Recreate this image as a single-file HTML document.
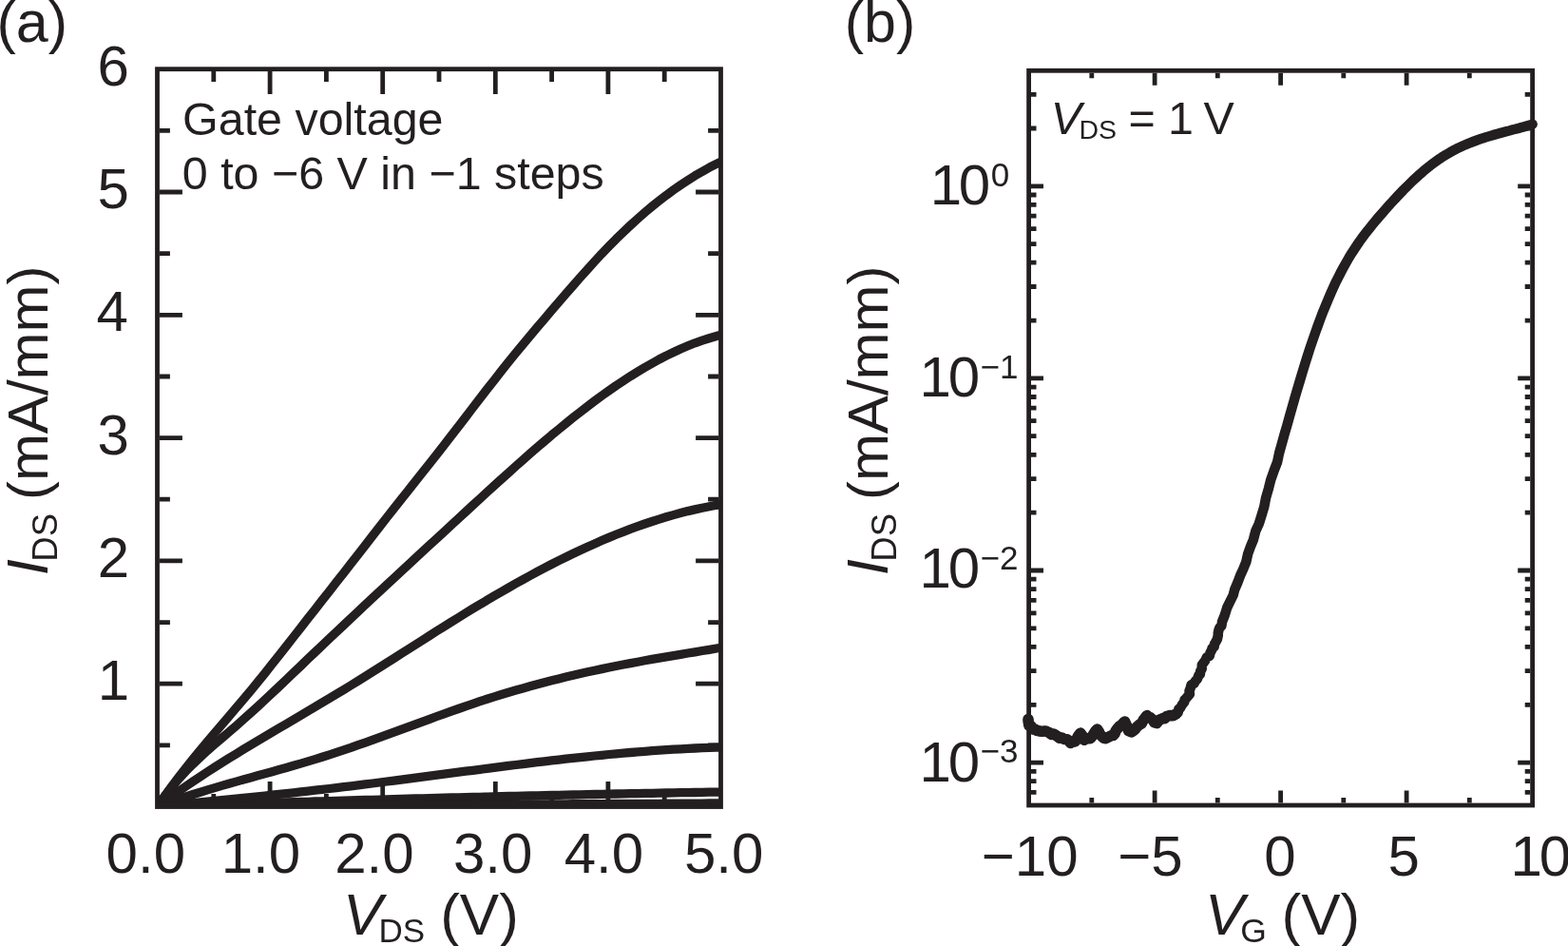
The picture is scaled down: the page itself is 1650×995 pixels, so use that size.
<!DOCTYPE html>
<html><head><meta charset="utf-8"><title>Transistor characteristics</title>
<style>
html,body{margin:0;padding:0;background:#fff;overflow:hidden;}
svg{display:block;}
text{font-family:"Liberation Sans",Arial,Helvetica,sans-serif;fill:#231f20;}
</style></head>
<body>
<svg width="1650" height="995" viewBox="0 0 1650 995">
<rect width="1650" height="995" fill="#fff"/>
<rect x="165.5" y="72.7" width="593.0" height="775.8" fill="none" stroke="#231f20" stroke-width="4.8"/>
<path d="M224.8,846.1V835.1M224.8,75.1V86.1M284.1,846.1V822.1M284.1,75.1V99.1M343.4,846.1V835.1M343.4,75.1V86.1M402.7,846.1V822.1M402.7,75.1V99.1M462.0,846.1V835.1M462.0,75.1V86.1M521.3,846.1V822.1M521.3,75.1V99.1M580.6,846.1V835.1M580.6,75.1V86.1M639.9,846.1V822.1M639.9,75.1V99.1M699.2,846.1V835.1M699.2,75.1V86.1M167.9,783.9H178.9M756.1,783.9H745.1M167.9,719.2H191.9M756.1,719.2H732.1M167.9,654.6H178.9M756.1,654.6H745.1M167.9,589.9H191.9M756.1,589.9H732.1M167.9,525.2H178.9M756.1,525.2H745.1M167.9,460.6H191.9M756.1,460.6H732.1M167.9,396.0H178.9M756.1,396.0H745.1M167.9,331.3H191.9M756.1,331.3H732.1M167.9,266.6H178.9M756.1,266.6H745.1M167.9,202.0H191.9M756.1,202.0H732.1M167.9,137.4H178.9M756.1,137.4H745.1" fill="none" stroke="#231f20" stroke-width="4.8"/>
<clipPath id="ca"><rect x="165.5" y="72.7" width="593.0" height="775.8"/></clipPath>
<g clip-path="url(#ca)"><polyline points="165.5,848.5 173.0,837.7 180.6,827.3 188.1,817.3 195.7,807.6 203.2,798.2 210.8,789.0 218.3,780.0 225.9,771.1 233.4,762.3 240.9,753.5 248.5,744.6 256.0,735.7 263.6,726.7 271.1,717.5 278.7,708.2 286.2,698.7 293.8,689.2 301.3,679.6 308.8,670.0 316.4,660.3 323.9,650.7 331.5,641.1 339.0,631.4 346.6,621.8 354.1,612.2 361.7,602.6 369.2,592.9 376.7,583.3 384.3,573.6 391.8,563.8 399.4,554.1 406.9,544.5 414.5,534.8 422.0,525.3 429.6,515.8 437.1,506.3 444.6,496.9 452.2,487.4 459.7,477.8 467.3,468.1 474.8,458.4 482.4,448.6 489.9,438.8 497.4,429.0 505.0,419.2 512.5,409.4 520.1,399.8 527.6,390.2 535.2,380.7 542.7,371.4 550.3,362.2 557.8,353.2 565.3,344.3 572.9,335.4 580.4,326.6 588.0,317.8 595.5,309.0 603.1,300.4 610.6,291.8 618.2,283.3 625.7,275.0 633.2,266.9 640.8,259.1 648.3,251.4 655.9,244.1 663.4,237.0 671.0,230.1 678.5,223.5 686.1,217.2 693.6,211.2 701.1,205.4 708.7,199.8 716.2,194.6 723.8,189.6 731.3,184.8 738.9,180.4 746.4,176.2 754.0,172.3 761.5,168.6" fill="none" stroke="#231f20" stroke-width="9.3" stroke-linejoin="round"/><polyline points="165.5,848.5 173.0,837.9 180.6,828.2 188.1,819.3 195.7,811.1 203.2,803.5 210.8,796.3 218.3,789.4 225.9,782.8 233.4,776.4 240.9,770.0 248.5,763.4 256.0,756.8 263.6,750.0 271.1,743.2 278.7,736.2 286.2,729.1 293.8,722.0 301.3,714.9 308.8,707.7 316.4,700.5 323.9,693.2 331.5,686.0 339.0,678.9 346.6,671.7 354.1,664.6 361.7,657.5 369.2,650.4 376.7,643.3 384.3,636.2 391.8,629.2 399.4,622.1 406.9,615.1 414.5,608.1 422.0,601.1 429.6,594.1 437.1,587.1 444.6,580.2 452.2,573.2 459.7,566.3 467.3,559.3 474.8,552.4 482.4,545.4 489.9,538.5 497.4,531.5 505.0,524.6 512.5,517.7 520.1,510.8 527.6,504.0 535.2,497.2 542.7,490.4 550.3,483.7 557.8,477.1 565.3,470.6 572.9,464.1 580.4,457.7 588.0,451.5 595.5,445.3 603.1,439.2 610.6,433.3 618.2,427.5 625.7,421.8 633.2,416.2 640.8,410.9 648.3,405.6 655.9,400.6 663.4,395.7 671.0,391.0 678.5,386.5 686.1,382.2 693.6,378.0 701.1,374.1 708.7,370.5 716.2,367.0 723.8,363.8 731.3,360.8 738.9,358.1 746.4,355.7 754.0,353.5 761.5,351.5" fill="none" stroke="#231f20" stroke-width="9.3" stroke-linejoin="round"/><polyline points="165.5,848.5 173.0,842.9 180.6,837.5 188.1,832.2 195.7,827.0 203.2,821.9 210.8,816.8 218.3,811.9 225.9,807.0 233.4,802.3 240.9,797.5 248.5,792.9 256.0,788.3 263.6,783.7 271.1,779.2 278.7,774.7 286.2,770.2 293.8,765.8 301.3,761.4 308.8,756.9 316.4,752.5 323.9,748.1 331.5,743.6 339.0,739.1 346.6,734.6 354.1,730.1 361.7,725.5 369.2,720.9 376.7,716.2 384.3,711.5 391.8,706.8 399.4,702.0 406.9,697.3 414.5,692.5 422.0,687.7 429.6,682.9 437.1,678.1 444.6,673.3 452.2,668.5 459.7,663.7 467.3,659.0 474.8,654.3 482.4,649.6 489.9,644.9 497.4,640.3 505.0,635.8 512.5,631.3 520.1,626.8 527.6,622.4 535.2,618.1 542.7,613.8 550.3,609.6 557.8,605.5 565.3,601.4 572.9,597.4 580.4,593.5 588.0,589.7 595.5,586.0 603.1,582.3 610.6,578.7 618.2,575.2 625.7,571.9 633.2,568.6 640.8,565.4 648.3,562.3 655.9,559.3 663.4,556.4 671.0,553.7 678.5,551.0 686.1,548.5 693.6,546.1 701.1,543.8 708.7,541.6 716.2,539.6 723.8,537.6 731.3,535.9 738.9,534.2 746.4,532.7 754.0,531.3 761.5,530.1" fill="none" stroke="#231f20" stroke-width="9.3" stroke-linejoin="round"/><polyline points="165.5,848.5 173.0,845.7 180.6,843.0 188.1,840.5 195.7,838.0 203.2,835.5 210.8,833.2 218.3,830.9 225.9,828.6 233.4,826.4 240.9,824.3 248.5,822.1 256.0,820.0 263.6,817.9 271.1,815.8 278.7,813.8 286.2,811.7 293.8,809.6 301.3,807.5 308.8,805.3 316.4,803.1 323.9,800.9 331.5,798.6 339.0,796.3 346.6,793.9 354.1,791.4 361.7,788.9 369.2,786.4 376.7,783.7 384.3,781.1 391.8,778.4 399.4,775.7 406.9,772.9 414.5,770.2 422.0,767.4 429.6,764.6 437.1,761.8 444.6,759.1 452.2,756.3 459.7,753.5 467.3,750.8 474.8,748.1 482.4,745.5 489.9,742.8 497.4,740.3 505.0,737.7 512.5,735.3 520.1,732.9 527.6,730.5 535.2,728.2 542.7,726.0 550.3,723.9 557.8,721.8 565.3,719.7 572.9,717.7 580.4,715.8 588.0,713.9 595.5,712.1 603.1,710.3 610.6,708.5 618.2,706.8 625.7,705.2 633.2,703.6 640.8,702.0 648.3,700.5 655.9,699.0 663.4,697.6 671.0,696.2 678.5,694.8 686.1,693.4 693.6,692.1 701.1,690.8 708.7,689.6 716.2,688.3 723.8,687.0 731.3,685.8 738.9,684.5 746.4,683.3 754.0,682.0 761.5,680.7" fill="none" stroke="#231f20" stroke-width="9.3" stroke-linejoin="round"/><polyline points="165.5,848.5 173.0,847.7 180.6,847.0 188.1,846.2 195.7,845.4 203.2,844.7 210.8,843.9 218.3,843.2 225.9,842.4 233.4,841.6 240.9,840.9 248.5,840.1 256.0,839.3 263.6,838.6 271.1,837.8 278.7,837.0 286.2,836.2 293.8,835.4 301.3,834.6 308.8,833.8 316.4,832.9 323.9,832.1 331.5,831.2 339.0,830.4 346.6,829.5 354.1,828.6 361.7,827.7 369.2,826.8 376.7,825.8 384.3,824.9 391.8,824.0 399.4,823.0 406.9,822.0 414.5,821.1 422.0,820.1 429.6,819.1 437.1,818.1 444.6,817.2 452.2,816.2 459.7,815.2 467.3,814.2 474.8,813.2 482.4,812.2 489.9,811.2 497.4,810.3 505.0,809.3 512.5,808.3 520.1,807.3 527.6,806.4 535.2,805.4 542.7,804.5 550.3,803.6 557.8,802.6 565.3,801.7 572.9,800.8 580.4,799.9 588.0,799.1 595.5,798.2 603.1,797.4 610.6,796.6 618.2,795.8 625.7,795.0 633.2,794.3 640.8,793.5 648.3,792.8 655.9,792.2 663.4,791.5 671.0,790.9 678.5,790.3 686.1,789.7 693.6,789.2 701.1,788.7 708.7,788.2 716.2,787.8 723.8,787.4 731.3,787.0 738.9,786.7 746.4,786.4 754.0,786.2 761.5,786.0" fill="none" stroke="#231f20" stroke-width="9.3" stroke-linejoin="round"/><polyline points="165.5,848.5 173.0,848.2 180.6,848.0 188.1,847.7 195.7,847.4 203.2,847.2 210.8,846.9 218.3,846.7 225.9,846.4 233.4,846.2 240.9,845.9 248.5,845.7 256.0,845.4 263.6,845.2 271.1,844.9 278.7,844.7 286.2,844.4 293.8,844.2 301.3,844.0 308.8,843.7 316.4,843.5 323.9,843.3 331.5,843.0 339.0,842.8 346.6,842.6 354.1,842.4 361.7,842.1 369.2,841.9 376.7,841.7 384.3,841.5 391.8,841.3 399.4,841.1 406.9,840.9 414.5,840.6 422.0,840.4 429.6,840.2 437.1,840.0 444.6,839.8 452.2,839.6 459.7,839.4 467.3,839.2 474.8,839.0 482.4,838.8 489.9,838.6 497.4,838.5 505.0,838.3 512.5,838.1 520.1,837.9 527.6,837.7 535.2,837.5 542.7,837.4 550.3,837.2 557.8,837.0 565.3,836.8 572.9,836.7 580.4,836.5 588.0,836.3 595.5,836.2 603.1,836.0 610.6,835.8 618.2,835.7 625.7,835.5 633.2,835.4 640.8,835.2 648.3,835.0 655.9,834.9 663.4,834.7 671.0,834.6 678.5,834.4 686.1,834.3 693.6,834.2 701.1,834.0 708.7,833.9 716.2,833.7 723.8,833.6 731.3,833.5 738.9,833.3 746.4,833.2 754.0,833.1 761.5,833.0" fill="none" stroke="#231f20" stroke-width="9.3" stroke-linejoin="round"/><polyline points="165.5,848.5 173.0,848.4 180.6,848.4 188.1,848.3 195.7,848.3 203.2,848.2 210.8,848.2 218.3,848.1 225.9,848.0 233.4,848.0 240.9,847.9 248.5,847.9 256.0,847.8 263.6,847.8 271.1,847.7 278.7,847.7 286.2,847.6 293.8,847.6 301.3,847.5 308.8,847.5 316.4,847.4 323.9,847.4 331.5,847.3 339.0,847.3 346.6,847.2 354.1,847.2 361.7,847.1 369.2,847.1 376.7,847.0 384.3,847.0 391.8,846.9 399.4,846.9 406.9,846.8 414.5,846.8 422.0,846.7 429.6,846.7 437.1,846.6 444.6,846.6 452.2,846.5 459.7,846.5 467.3,846.5 474.8,846.4 482.4,846.4 489.9,846.3 497.4,846.3 505.0,846.2 512.5,846.2 520.1,846.2 527.6,846.1 535.2,846.1 542.7,846.0 550.3,846.0 557.8,845.9 565.3,845.9 572.9,845.9 580.4,845.8 588.0,845.8 595.5,845.8 603.1,845.7 610.6,845.7 618.2,845.6 625.7,845.6 633.2,845.6 640.8,845.5 648.3,845.5 655.9,845.5 663.4,845.4 671.0,845.4 678.5,845.3 686.1,845.3 693.6,845.3 701.1,845.2 708.7,845.2 716.2,845.2 723.8,845.1 731.3,845.1 738.9,845.1 746.4,845.0 754.0,845.0 761.5,845.0" fill="none" stroke="#231f20" stroke-width="9.3" stroke-linejoin="round"/></g>
<rect x="1082.6" y="74.3" width="530.0" height="772.7" fill="none" stroke="#231f20" stroke-width="4.8"/>
<path d="M1148.8,844.6V839.1M1148.8,76.7V82.2M1215.1,844.6V831.6M1215.1,76.7V89.7M1281.3,844.6V839.1M1281.3,76.7V82.2M1347.6,844.6V831.6M1347.6,76.7V89.7M1413.8,844.6V839.1M1413.8,76.7V82.2M1480.1,844.6V831.6M1480.1,76.7V89.7M1546.3,844.6V839.1M1546.3,76.7V82.2M1085.0,833.4H1090.5M1610.2,833.4H1604.7M1085.0,821.7H1090.5M1610.2,821.7H1604.7M1085.0,811.3H1090.5M1610.2,811.3H1604.7M1085.0,802.1H1098.0M1610.2,802.1H1597.2M1085.0,741.3H1090.5M1610.2,741.3H1604.7M1085.0,705.7H1090.5M1610.2,705.7H1604.7M1085.0,680.4H1090.5M1610.2,680.4H1604.7M1085.0,660.8H1090.5M1610.2,660.8H1604.7M1085.0,644.8H1090.5M1610.2,644.8H1604.7M1085.0,631.3H1090.5M1610.2,631.3H1604.7M1085.0,619.6H1090.5M1610.2,619.6H1604.7M1085.0,609.2H1090.5M1610.2,609.2H1604.7M1085.0,600.0H1098.0M1610.2,600.0H1597.2M1085.0,539.2H1090.5M1610.2,539.2H1604.7M1085.0,503.6H1090.5M1610.2,503.6H1604.7M1085.0,478.3H1090.5M1610.2,478.3H1604.7M1085.0,458.7H1090.5M1610.2,458.7H1604.7M1085.0,442.7H1090.5M1610.2,442.7H1604.7M1085.0,429.2H1090.5M1610.2,429.2H1604.7M1085.0,417.5H1090.5M1610.2,417.5H1604.7M1085.0,407.1H1090.5M1610.2,407.1H1604.7M1085.0,397.9H1098.0M1610.2,397.9H1597.2M1085.0,337.1H1090.5M1610.2,337.1H1604.7M1085.0,301.5H1090.5M1610.2,301.5H1604.7M1085.0,276.2H1090.5M1610.2,276.2H1604.7M1085.0,256.6H1090.5M1610.2,256.6H1604.7M1085.0,240.6H1090.5M1610.2,240.6H1604.7M1085.0,227.1H1090.5M1610.2,227.1H1604.7M1085.0,215.4H1090.5M1610.2,215.4H1604.7M1085.0,205.0H1090.5M1610.2,205.0H1604.7M1085.0,195.8H1098.0M1610.2,195.8H1597.2M1085.0,135.0H1090.5M1610.2,135.0H1604.7M1085.0,99.4H1090.5M1610.2,99.4H1604.7" fill="none" stroke="#231f20" stroke-width="4.8"/>
<polyline points="1082.0,756.5 1082.1,758.8 1082.8,763.0 1085.2,763.9 1087.0,767.0 1089.5,767.3 1091.1,768.4 1094.3,769.0 1096.7,769.3 1100.0,768.9 1104.0,770.5 1106.5,772.5 1108.7,772.1 1112.0,774.0 1114.9,776.3 1117.5,776.1 1120.0,777.5 1123.0,777.7 1125.0,779.6 1126.5,781.5 1128.3,779.7 1131.3,779.9 1132.8,777.8 1134.5,774.2 1136.9,771.1 1138.5,773.2 1139.7,774.8 1141.0,778.3 1143.4,776.7 1147.4,776.7 1149.5,774.1 1150.7,772.1 1152.7,769.0 1154.6,767.1 1156.5,769.8 1156.8,771.6 1158.6,773.5 1161.1,776.1 1163.5,776.7 1166.6,775.1 1169.7,773.6 1171.5,773.5 1173.0,771.8 1174.1,768.7 1175.5,766.7 1177.9,763.9 1180.3,762.5 1182.4,760.1 1183.6,759.0 1185.3,762.5 1186.4,765.4 1187.6,768.7 1190.6,769.9 1192.4,768.7 1194.5,767.0 1195.9,764.9 1198.9,762.2 1201.2,761.1 1203.5,756.8 1204.7,755.4 1206.9,752.6 1208.2,754.1 1210.6,754.8 1213.3,757.4 1214.6,759.7 1217.4,760.6 1219.5,757.5 1223.0,755.8 1225.5,755.7 1227.6,753.5 1231.0,752.6 1234.3,752.8 1237.5,751.0" fill="none" stroke="#231f20" stroke-width="11.5" stroke-linejoin="round" stroke-linecap="round"/>
<polyline points="1082.0,756.5 1082.1,758.8 1082.8,763.0 1085.2,763.9 1087.0,767.0 1089.5,767.3 1091.1,768.4 1094.3,769.0 1096.7,769.3 1100.0,768.9 1104.0,770.5 1106.5,772.5 1108.7,772.1 1112.0,774.0 1114.9,776.3 1117.5,776.1 1120.0,777.5 1123.0,777.7 1125.0,779.6 1126.5,781.5 1128.3,779.7 1131.3,779.9 1132.8,777.8 1134.5,774.2 1136.9,771.1 1138.5,773.2 1139.7,774.8 1141.0,778.3 1143.4,776.7 1147.4,776.7 1149.5,774.1 1150.7,772.1 1152.7,769.0 1154.6,767.1 1156.5,769.8 1156.8,771.6 1158.6,773.5 1161.1,776.1 1163.5,776.7 1166.6,775.1 1169.7,773.6 1171.5,773.5 1173.0,771.8 1174.1,768.7 1175.5,766.7 1177.9,763.9 1180.3,762.5 1182.4,760.1 1183.6,759.0 1185.3,762.5 1186.4,765.4 1187.6,768.7 1190.6,769.9 1192.4,768.7 1194.5,767.0 1195.9,764.9 1198.9,762.2 1201.2,761.1 1203.5,756.8 1204.7,755.4 1206.9,752.6 1208.2,754.1 1210.6,754.8 1213.3,757.4 1214.6,759.7 1217.4,760.6 1219.5,757.5 1223.0,755.8 1225.5,755.7 1227.6,753.5 1231.0,752.6 1234.3,752.8 1237.5,751.0 1239.7,749.5 1240.3,745.9 1242.0,744.7 1243.9,741.3 1246.3,738.2 1246.5,736.1 1248.2,734.5 1250.5,731.7 1251.9,730.1 1251.5,726.7 1252.7,723.8 1253.5,720.4 1256.5,718.8 1257.9,716.4 1260.0,714.0 1261.4,710.2 1262.9,709.4 1263.2,706.0 1264.7,703.5 1264.8,699.5 1266.6,696.8 1268.1,695.0 1270.0,691.2 1272.8,689.9 1273.5,686.6 1275.0,683.9 1275.6,681.7 1277.7,680.2 1278.0,677.2 1279.0,675.8 1280.9,672.2 1281.8,668.3 1281.8,665.8 1282.6,662.2 1283.5,660.1 1285.4,658.4 1286,654.038462405969 1288.9,646.7 1291.1,639.4 1294.2,633.0 1297.7,626.0 1299.1,620.4 1302.6,612.1 1305.4,604.7 1308.1,598.9 1311.3,591.0 1313.1,582.8 1315.7,575.5 1319.0,567.4 1321.4,558.2 1324.8,550.9 1327.6,541.9 1330.3,532.9 1332.1,523.6 1335.0,513.6 1337.2,504.7 1340.3,495.9 1344.1,486.0 1346.1,476.5 1348.8,466.9 1351.5,457.2 1354.3,447.6 1357.0,437.9 1359.7,428.4 1362.4,418.9 1365.1,409.6 1367.9,400.4 1370.6,391.3 1373.3,382.5 1376.0,373.9 1378.7,365.5 1381.5,357.4 1384.2,349.6 1386.9,342.1 1389.6,334.8 1392.3,327.7 1395.1,320.9 1397.8,314.4 1400.5,308.1 1403.2,302.1 1405.9,296.3 1408.7,290.8 1411.4,285.5 1414.1,280.5 1416.8,275.7 1419.5,271.0 1422.2,266.6 1425.0,262.3 1427.7,258.3 1430.4,254.3 1433.1,250.5 1435.8,246.9 1438.6,243.3 1441.3,239.9 1444.0,236.5 1446.7,233.2 1449.4,230.0 1452.2,226.8 1454.9,223.7 1457.6,220.6 1460.3,217.6 1463.0,214.5 1465.8,211.5 1468.5,208.6 1471.2,205.7 1473.9,202.8 1476.6,200.0 1479.4,197.3 1482.1,194.6 1484.8,191.9 1487.5,189.3 1490.2,186.8 1492.9,184.3 1495.7,181.9 1498.4,179.6 1501.1,177.3 1503.8,175.2 1506.5,173.0 1509.3,171.0 1512.0,169.0 1514.7,167.1 1517.4,165.3 1520.1,163.6 1522.9,162.0 1525.6,160.4 1528.3,158.9 1531.0,157.4 1533.7,156.1 1536.5,154.8 1539.2,153.5 1541.9,152.3 1544.6,151.2 1547.3,150.1 1550.1,149.0 1552.8,148.0 1555.5,147.0 1558.2,146.1 1560.9,145.2 1563.7,144.3 1566.4,143.5 1569.1,142.7 1571.8,141.9 1574.5,141.1 1577.2,140.4 1580.0,139.6 1582.7,138.9 1585.4,138.2 1588.1,137.5 1590.8,136.7 1593.6,136.0 1596.3,135.3 1599.0,134.6 1601.7,133.8 1604.4,133.1 1607.2,132.3 1609.9,131.5 1612.6,130.7" fill="none" stroke="#231f20" stroke-width="10.5" stroke-linejoin="round" stroke-linecap="round"/>
<text x="-3.5" y="44.0" font-size="61">(a)</text>
<text x="888.8" y="44.0" font-size="61">(b)</text>
<text x="102.8" y="736.2" font-size="60">1</text>
<text x="102.8" y="606.9" font-size="60">2</text>
<text x="102.5" y="477.6" font-size="60">3</text>
<text x="101.6" y="348.3" font-size="60">4</text>
<text x="102.4" y="219.0" font-size="60">5</text>
<text x="102.5" y="89.7" font-size="60">6</text>
<text x="111.6" y="917.9" font-size="60">0.0</text>
<text x="232.7" y="917.9" font-size="60">1.0</text>
<text x="352.2" y="917.9" font-size="60">2.0</text>
<text x="477.0" y="917.9" font-size="60">3.0</text>
<text x="593.7" y="917.9" font-size="60">4.0</text>
<text x="719.9" y="917.9" font-size="60">5.0</text>
<text x="361.1" y="982.9" font-size="62" font-style="italic">V</text>
<text x="398.6" y="991.2" font-size="35">DS</text>
<text x="463.2" y="982.9" font-size="62">(V)</text>
<text x="192.1" y="141.8" font-size="48.4">Gate voltage</text>
<text x="191.8" y="199.1" font-size="48.4">0 to −6 V in −1 steps</text>
<text x="1032.8" y="920.5" font-size="60">−10</text>
<text x="1176.2" y="920.5" font-size="60">−5</text>
<text x="1330.3" y="920.5" font-size="60">0</text>
<text x="1460.4" y="920.5" font-size="60">5</text>
<text x="1589.5" y="920.5" font-size="60" letter-spacing="-3">10</text>
<text x="1267.9" y="983.0" font-size="62" font-style="italic">V</text>
<text x="1305.3" y="991.3" font-size="35.5">G</text>
<text x="1348.5" y="983.0" font-size="62">(V)</text>
<text x="978.8" y="215.0" font-size="60" letter-spacing="-3.5">10</text>
<text x="1042.8" y="195.5" font-size="35">0</text>
<text x="967.4" y="417.3" font-size="60" letter-spacing="-3">10</text>
<text x="1031.6" y="398.0" font-size="35">−1</text>
<text x="967.4" y="618.0" font-size="60" letter-spacing="-3">10</text>
<text x="1031.6" y="598.7" font-size="35">−2</text>
<text x="967.4" y="821.5" font-size="60" letter-spacing="-3">10</text>
<text x="1031.6" y="802.2" font-size="35">−3</text>
<text x="1105.8" y="141.3" font-size="48.4" font-style="italic">V</text>
<text x="1135.4" y="146.0" font-size="28.5">DS</text>
<text x="1187.6" y="141.3" font-size="48.4">=</text>
<text x="1229.0" y="141.3" font-size="48.4">1</text>
<text x="1266.6" y="141.3" font-size="48.4">V</text>
<g transform="rotate(-90)">
<text x="-605.2" y="50.3" font-size="61.5" font-style="italic">I</text>
<text x="-590.7" y="60.0" font-size="36.5">DS</text>
<text x="-526.1" y="50.3" font-size="60">(mA/mm)</text>
<text x="-605.2" y="933.7" font-size="61.5" font-style="italic">I</text>
<text x="-590.7" y="943.4" font-size="36.5">DS</text>
<text x="-526.1" y="933.7" font-size="60">(mA/mm)</text>
</g>
</svg>
</body></html>
